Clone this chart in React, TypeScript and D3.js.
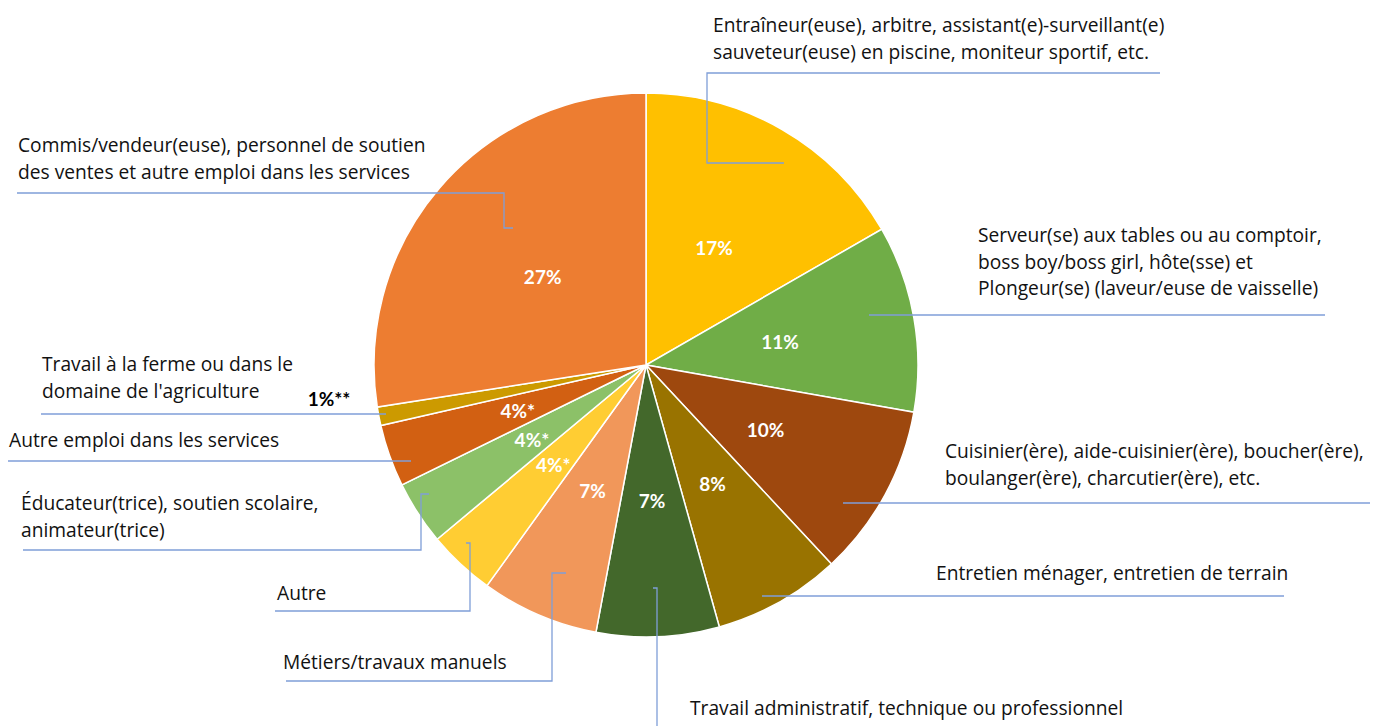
import { useMemo } from "react";
import * as d3 from "d3";

const W = 1375;
const H = 726;
const CX = 646;
const CY = 365;
const R = 272;

// slices clockwise from 12 o'clock
const categories = [
  "Entraîneur",
  "Serveur",
  "Cuisinier",
  "Entretien",
  "Travail administratif",
  "Métiers",
  "Autre",
  "Éducateur",
  "Autre emploi",
  "Ferme",
  "Commis",
];
const values = [16.7, 11.1, 10.3, 7.6, 7.3, 7.0, 4.0, 3.8, 3.7, 1.1, 27.5];
const pctLabels = ["17%", "11%", "10%", "8%", "7%", "7%", "4%*", "4%*", "4%*", "1%**", "27%"];
const colors = [
  "#FFC000",
  "#70AD47",
  "#9E480E",
  "#997300",
  "#43682B",
  "#F1975A",
  "#FFCD33",
  "#8CC168",
  "#D26012",
  "#CC9A00",
  "#ED7D31",
];

const labelLines: string[][] = [
  ["Entraîneur(euse), arbitre, assistant(e)-surveillant(e)", "sauveteur(euse) en piscine, moniteur sportif, etc."],
  ["Serveur(se) aux tables ou au comptoir,", "boss boy/boss girl, hôte(sse) et", "Plongeur(se) (laveur/euse de vaisselle)"],
  ["Cuisinier(ère), aide-cuisinier(ère), boucher(ère),", "boulanger(ère), charcutier(ère), etc."],
  ["Entretien ménager, entretien de terrain"],
  ["Travail administratif, technique ou professionnel"],
  ["Métiers/travaux manuels"],
  ["Autre"],
  ["Éducateur(trice), soutien scolaire,", "animateur(trice)"],
  ["Autre emploi dans les services"],
  ["Travail à la ferme ou dans le", "domaine de l'agriculture"],
  ["Commis/vendeur(euse), personnel de soutien", "des ventes et autre emploi dans les services"],
];

// where Excel left each category label (text left edge, first baseline)
const labelPos: [number, number][] = [
  [713, 32],
  [978, 242],
  [945, 458],
  [936, 580],
  [690, 715],
  [283, 669],
  [277, 600],
  [21, 510],
  [9, 447],
  [42, 371],
  [18, 152],
];

// leader lines, from the label out to the slice
const leaders: [number, number][][] = [
  [[1160, 73], [707, 73], [707, 163], [784, 163]],
  [[1325, 315], [869, 315]],
  [[1370, 503], [843, 503]],
  [[1284, 596], [762, 596]],
  [[657, 740], [657, 588], [653, 588]],
  [[286, 681], [552, 681], [552, 573], [566, 573]],
  [[275, 611], [470, 611], [470, 543], [466, 543]],
  [[23, 550], [421, 550], [421, 494], [429, 494]],
  [[8, 461], [411, 461]],
  [[41, 414], [386, 414]],
  [[17, 193], [504, 193], [504, 228], [513, 228]],
];

const outsidePct: [number, number] = [329, 406];

const FONT = "'Open Sans', Lato, sans-serif";
const PCT_FONT = "Lato, 'Open Sans', sans-serif";

export default function App() {
  const arcs = useMemo(
    () =>
      d3
        .pie<number>()
        .sort(null)
        .value((d) => d)(values),
    []
  );
  const arc = d3.arc<d3.PieArcDatum<number>>().innerRadius(0).outerRadius(R);
  const line = d3.line();

  return (
    <div style={{ position: "absolute", left: 0, top: 0, background: "#fff" }}>
      <svg width={W} height={H} style={{ display: "block" }}>
        <g transform={`translate(${CX},${CY})`}>
          {arcs.map((a, i) => (
            <path key={categories[i]} d={arc(a) || ""} fill={colors[i]} stroke="#fff" strokeWidth={1.5} />
          ))}
          {arcs.map((a, i) => {
            if (i === 9) return null;
            const [x, y] = arc.centroid(a);
            return (
              <text
                key={"p" + i}
                x={x}
                y={y}
                textAnchor="middle"
                dominantBaseline="central"
                fill="#fff"
                fontFamily={PCT_FONT}
                fontWeight={700}
                fontSize={19}
              >
                {pctLabels[i]}
              </text>
            );
          })}
        </g>
        <text
          x={outsidePct[0]}
          y={outsidePct[1]}
          textAnchor="middle"
          fill="#000"
          fontFamily={PCT_FONT}
          fontWeight={700}
          fontSize={19}
        >
          {pctLabels[9]}
        </text>
        {leaders.map((pts, i) => (
          <path key={"l" + i} d={line(pts) || ""} fill="none" stroke="#7F9ED8" strokeWidth={1.3} />
        ))}
        {labelLines.map((lines, i) => (
          <text key={"t" + i} x={labelPos[i][0]} y={labelPos[i][1]} fill="#111" fontFamily={FONT} fontSize={19.2}>
            {lines.map((s, j) => (
              <tspan key={j} x={labelPos[i][0]} dy={j === 0 ? 0 : 26.5}>
                {s}
              </tspan>
            ))}
          </text>
        ))}
      </svg>
    </div>
  );
}
